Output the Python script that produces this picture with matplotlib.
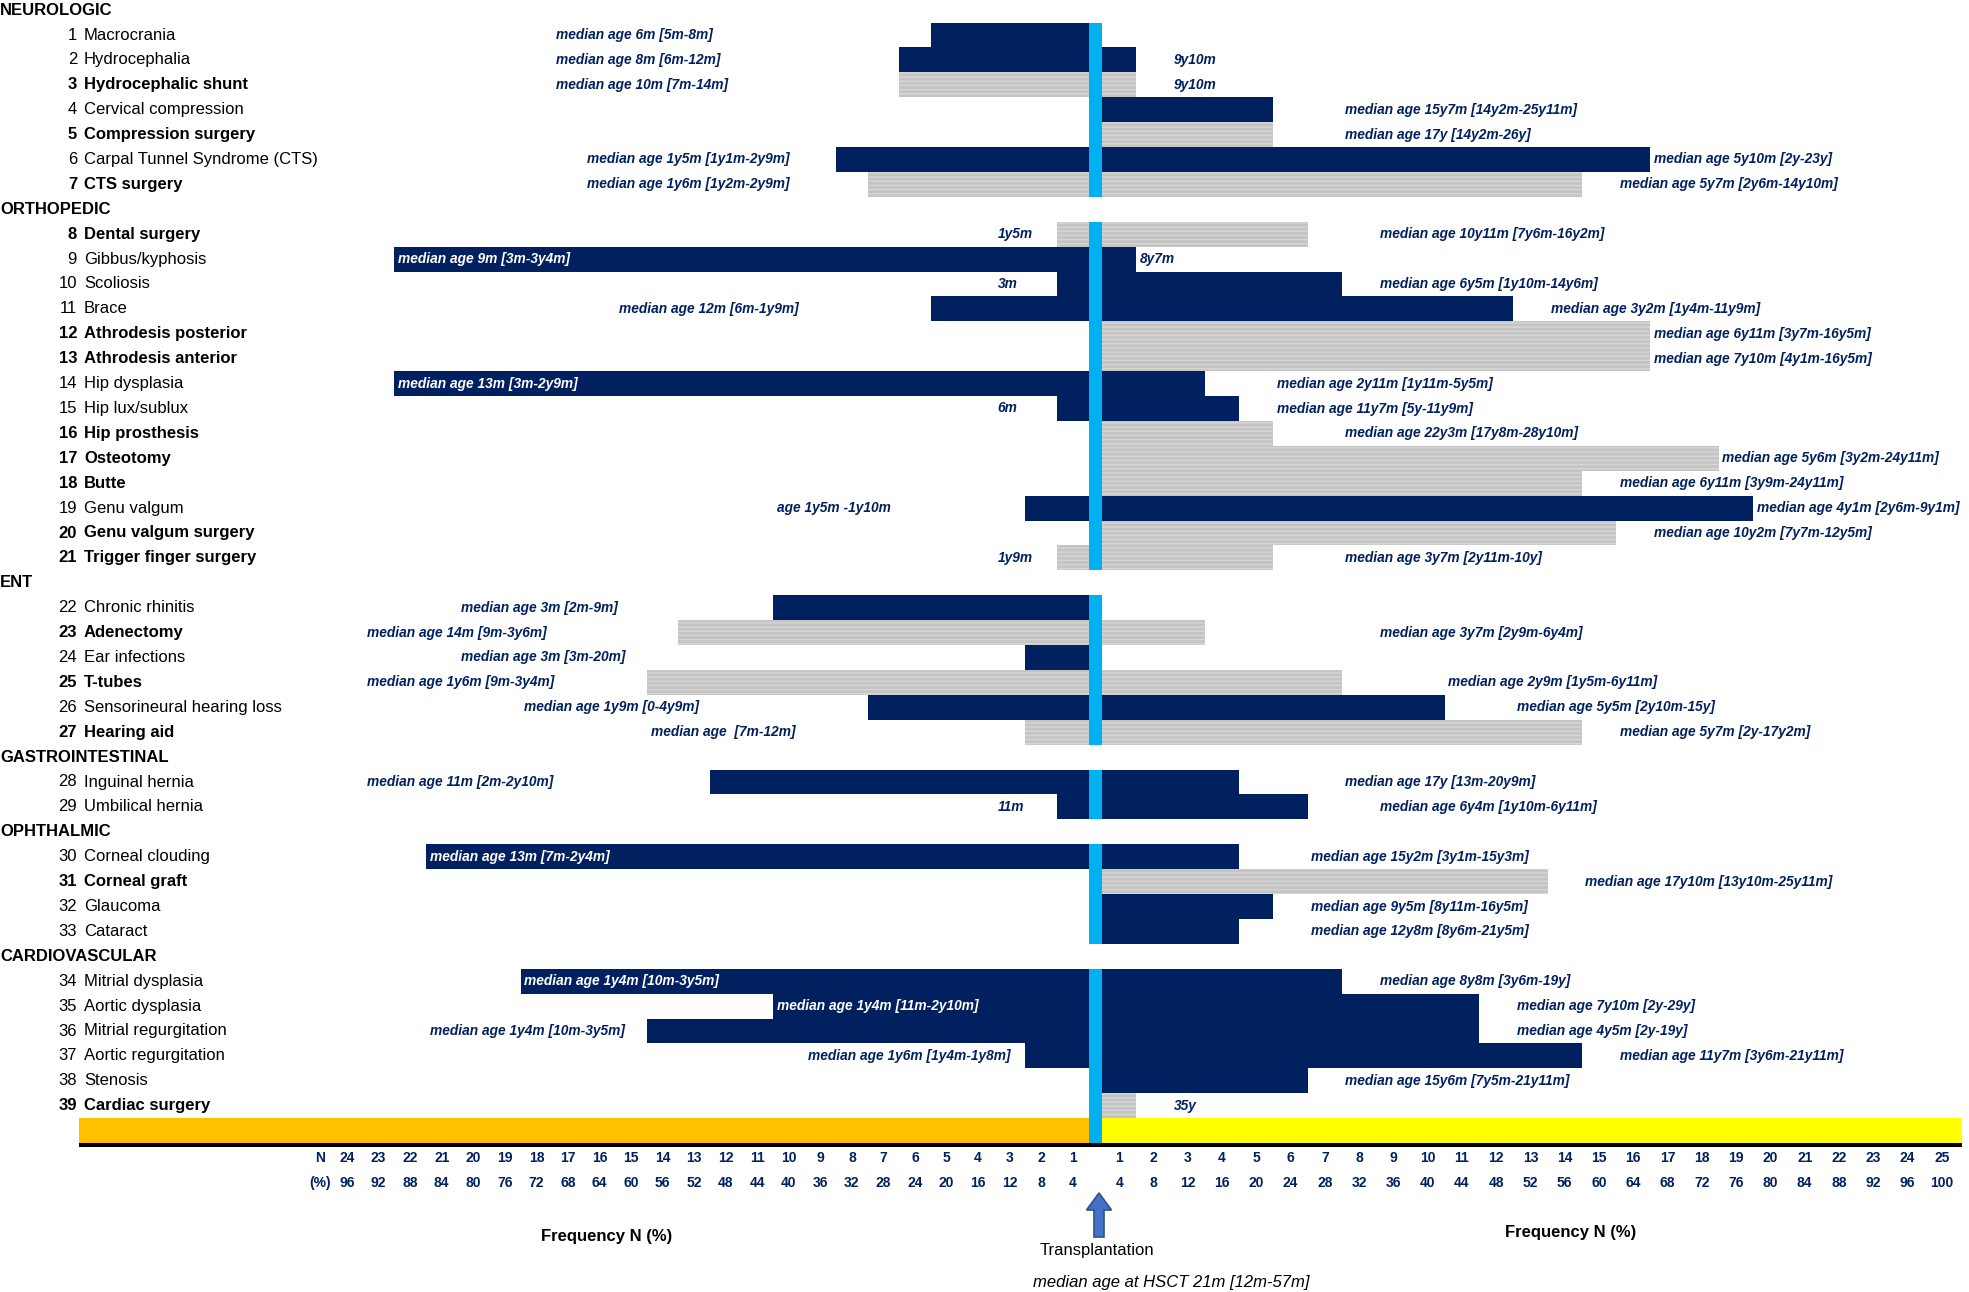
import matplotlib
matplotlib.use("Agg")
import matplotlib.pyplot as plt
from matplotlib import transforms
from matplotlib.lines import Line2D
from matplotlib.patches import FancyArrow

plt.rcParams['font.family'] = ['Liberation Sans Narrow', 'Liberation Sans', 'DejaVu Sans']
plt.rcParams['hatch.linewidth'] = 1.0

# ---------------- data ----------------
groups = ["NEUROLOGIC", "ORTHOPEDIC", "ENT", "GASTROINTESTINAL", "OPHTHALMIC", "CARDIOVASCULAR"]
group_sizes = [7, 14, 6, 2, 4, 6]

items = [
    "Macrocrania", "Hydrocephalia", "Hydrocephalic shunt", "Cervical compression",
    "Compression surgery", "Carpal Tunnel Syndrome (CTS)", "CTS surgery",
    "Dental surgery", "Gibbus/kyphosis", "Scoliosis", "Brace", "Athrodesis posterior",
    "Athrodesis anterior", "Hip dysplasia", "Hip lux/sublux", "Hip prosthesis",
    "Osteotomy", "Butte", "Genu valgum", "Genu valgum surgery", "Trigger finger surgery",
    "Chronic rhinitis", "Adenectomy", "Ear infections", "T-tubes",
    "Sensorineural hearing loss", "Hearing aid",
    "Inguinal hernia", "Umbilical hernia",
    "Corneal clouding", "Corneal graft", "Glaucoma", "Cataract",
    "Mitrial dysplasia", "Aortic dysplasia", "Mitrial regurgitation",
    "Aortic regurgitation", "Stenosis", "Cardiac surgery",
]

# True = procedure / surgery (grey bars, bold label)
procedure = [
    False, False, True, False, True, False, True,
    True, False, False, False, True, True, False, False, True, True, True, False, True, True,
    False, True, False, True, False, True,
    False, False,
    False, True, False, False,
    False, False, False, False, False, True,
]

# frequency N before transplantation (left) and after (right)
n_before = [5, 6, 6, 0, 0, 8, 7,
            1, 22, 1, 5, 0, 0, 22, 1, 0, 0, 0, 2, 0, 1,
            10, 13, 2, 14, 7, 2,
            12, 1,
            21, 0, 0, 0,
            18, 10, 14, 2, 0, 0]
n_after = [0, 1, 1, 5, 5, 16, 14,
           6, 1, 7, 12, 16, 16, 3, 4, 5, 18, 14, 19, 15, 5,
           0, 3, 0, 7, 10, 14,
           4, 6,
           4, 13, 5, 4,
           7, 11, 11, 14, 6, 1]

note_before = [
    "median age 6m [5m-8m]", "median age 8m [6m-12m]", "median age 10m [7m-14m]", "", "",
    "median age 1y5m [1y1m-2y9m]", "median age 1y6m [1y2m-2y9m]",
    "1y5m", "median age 9m [3m-3y4m]", "3m", "median age 12m [6m-1y9m]", "", "",
    "median age 13m [3m-2y9m]", "6m", "", "", "", "age 1y5m -1y10m", "", "1y9m",
    "median age 3m [2m-9m]", "median age 14m [9m-3y6m]", "median age 3m [3m-20m]",
    "median age 1y6m [9m-3y4m]", "median age 1y9m [0-4y9m]", "median age  [7m-12m]",
    "median age 11m [2m-2y10m]", "11m",
    "median age 13m [7m-2y4m]", "", "", "",
    "median age 1y4m [10m-3y5m]", "median age 1y4m [11m-2y10m]",
    "median age 1y4m [10m-3y5m]", "median age 1y6m [1y4m-1y8m]", "", "",
]
note_before_cell = [17, 17, 17, 0, 0, 16, 16,
                    3, 22, 3, 15, 0, 0, 22, 3, 0, 0, 0, 10, 0, 3,
                    20, 23, 20, 23, 18, 14,
                    23, 3,
                    21, 0, 0, 0,
                    18, 10, 21, 9, 0, 0]

note_after = [
    "", "9y10m", "9y10m", "median age 15y7m [14y2m-25y11m]", "median age 17y [14y2m-26y]",
    "median age 5y10m [2y-23y]", "median age 5y7m [2y6m-14y10m]",
    "median age 10y11m [7y6m-16y2m]", "8y7m", "median age 6y5m [1y10m-14y6m]",
    "median age 3y2m [1y4m-11y9m]", "median age 6y11m [3y7m-16y5m]",
    "median age 7y10m [4y1m-16y5m]", "median age 2y11m [1y11m-5y5m]",
    "median age 11y7m [5y-11y9m]", "median age 22y3m [17y8m-28y10m]",
    "median age 5y6m [3y2m-24y11m]", "median age 6y11m [3y9m-24y11m]",
    "median age 4y1m [2y6m-9y1m]", "median age 10y2m [7y7m-12y5m]",
    "median age 3y7m [2y11m-10y]",
    "", "median age 3y7m [2y9m-6y4m]", "", "median age 2y9m [1y5m-6y11m]",
    "median age 5y5m [2y10m-15y]", "median age 5y7m [2y-17y2m]",
    "median age 17y [13m-20y9m]", "median age 6y4m [1y10m-6y11m]",
    "median age 15y2m [3y1m-15y3m]", "median age 17y10m [13y10m-25y11m]",
    "median age 9y5m [8y11m-16y5m]", "median age 12y8m [8y6m-21y5m]",
    "median age 8y8m [3y6m-19y]", "median age 7y10m [2y-29y]", "median age 4y5m [2y-19y]",
    "median age 11y7m [3y6m-21y11m]", "median age 15y6m [7y5m-21y11m]", "35y",
]
note_after_cell = [0, 2, 2, 7, 7, 16, 15,
                   8, 1, 8, 13, 16, 16, 5, 5, 7, 18, 15, 19, 16, 7,
                   0, 8, 0, 10, 12, 15,
                   7, 8,
                   6, 14, 6, 6,
                   8, 12, 12, 15, 7, 2]

ticks_n_before = [24, 23, 22, 21, 20, 19, 18, 17, 16, 15, 14, 13, 12, 11, 10, 9, 8, 7, 6, 5, 4, 3, 2, 1]
ticks_pct_before = [96, 92, 88, 84, 80, 76, 72, 68, 64, 60, 56, 52, 48, 44, 40, 36, 32, 28, 24, 20, 16, 12, 8, 4]
ticks_n_after = list(range(1, 26))
ticks_pct_after = [4, 8, 12, 16, 20, 24, 28, 32, 36, 40, 44, 48, 52, 56, 60, 64, 68, 72, 76, 80, 84, 88, 92, 96, 100]

# ---------------- layout ----------------
W, H = 1969, 1292
NAVY = "#002060"
GREY = "#c4c4c4"
CYAN = "#00B0F0"
ROW_H = 24.9
ROW0 = 10.1
Y_BOTTOM = ROW0 + ROW_H * 45.5

fig = plt.figure(figsize=(W / 100, H / 100), dpi=100)
fig.patch.set_facecolor("white")


def rect(x0, x1):
    return [x0 / W, 1 - Y_BOTTOM / H, (x1 - x0) / W, Y_BOTTOM / H]


LX0, LX1 = 79, 1088.5
RX0, RX1 = 1102, 1961.5
LUNIT, RUNIT = 31.55, 34.28
axL = fig.add_axes(rect(LX0, LX1))
axM = fig.add_axes(rect(LX1, RX0))
axR = fig.add_axes(rect(RX0, RX1))
lmax = (LX1 - LX0) / LUNIT
rmax = (RX1 - RX0) / RUNIT
axL.set_xlim(lmax, 0)
axR.set_xlim(0, rmax)
axM.set_xlim(0, 1)
for a in (axL, axM, axR):
    a.set_ylim(45.5, (0 - ROW0) / ROW_H)
    a.axis("off")

# row indices
item_rows, header_rows = [], []
r = 0
for g, size in zip(groups, group_sizes):
    header_rows.append(r)
    r += 1
    for _ in range(size):
        item_rows.append(r)
        r += 1
band_row = r  # 45

navy_rows = [item_rows[i] for i in range(len(items)) if not procedure[i]]
proc_rows = [item_rows[i] for i in range(len(items)) if procedure[i]]
nb_navy = [n_before[i] for i in range(len(items)) if not procedure[i]]
nb_proc = [n_before[i] for i in range(len(items)) if procedure[i]]
na_navy = [n_after[i] for i in range(len(items)) if not procedure[i]]
na_proc = [n_after[i] for i in range(len(items)) if procedure[i]]

for ax, nav, prc in ((axL, nb_navy, nb_proc), (axR, na_navy, na_proc)):
    ax.barh(navy_rows, nav, height=1.0, color=NAVY, linewidth=0, align="center")
    ax.barh(proc_rows, prc, height=1.0, color=GREY, edgecolor="#d6d6d6",
            hatch="----", linewidth=0, align="center")

# bottom band
axL.barh([band_row], [lmax], height=1.0, color="#FFC000", linewidth=0)
axR.barh([band_row], [rmax], height=1.0, color="#FFFF00", linewidth=0)
# transplantation line
axM.barh(item_rows + [band_row], [1] * (len(item_rows) + 1), height=1.0, color=CYAN, linewidth=0)

fig.add_artist(Line2D([LX0 / W, 1962 / W], [1 - (Y_BOTTOM + 1.5) / H] * 2,
                      color="black", lw=2.9, solid_capstyle="butt"))

# row labels
trans = transforms.blended_transform_factory(fig.transFigure, axL.transData)
LBL_FS = 12
for g, hr in zip(groups, header_rows):
    fig.text(0.0, hr, g, transform=trans, ha="left", va="center",
             fontsize=LBL_FS, fontweight="bold", color="black")
for i, (name, rr) in enumerate(zip(items, item_rows)):
    w = "bold" if procedure[i] else "normal"
    fig.text(77 / W, rr, str(i + 1), transform=trans, ha="right", va="center",
             fontsize=LBL_FS, fontweight=w, color="black")
    fig.text(84 / W, rr, name, transform=trans, ha="left", va="center",
             fontsize=LBL_FS, fontweight=w, color="black")

# annotations
NOTE_FS = 9.9
for i, rr in enumerate(item_rows):
    if note_before[i]:
        c = note_before_cell[i]
        col = "white" if c <= n_before[i] else NAVY
        axL.text(c - 0.12, rr, note_before[i], ha="left", va="center", fontsize=NOTE_FS,
                 fontstyle="italic", fontweight="bold", color=col, clip_on=False)
    if note_after[i]:
        c = note_after_cell[i]
        col = "white" if c < n_after[i] else NAVY
        axR.text(c + 0.1, rr, note_after[i], ha="left", va="center", fontsize=NOTE_FS,
                 fontstyle="italic", fontweight="bold", color=col, clip_on=False)

# tick labels
Y_N = (1158 - ROW0) / ROW_H
Y_P = (1183 - ROW0) / ROW_H
TICK_FS = 10
for n, p in zip(ticks_n_before, ticks_pct_before):
    axL.text(n - 0.5, Y_N, str(n), ha="center", va="center", fontsize=TICK_FS,
             fontweight="bold", color=NAVY, clip_on=False)
    axL.text(n - 0.5, Y_P, str(p), ha="center", va="center", fontsize=TICK_FS,
             fontweight="bold", color=NAVY, clip_on=False)
for n, p in zip(ticks_n_after, ticks_pct_after):
    axR.text(n - 0.5, Y_N, str(n), ha="center", va="center", fontsize=TICK_FS,
             fontweight="bold", color=NAVY, clip_on=False)
    axR.text(n - 0.5, Y_P, str(p), ha="center", va="center", fontsize=TICK_FS,
             fontweight="bold", color=NAVY, clip_on=False)
axL.text(24.36, Y_N, "N", ha="center", va="center", fontsize=TICK_FS,
         fontweight="bold", color=NAVY, clip_on=False)
axL.text(24.36, Y_P, "(%)", ha="center", va="center", fontsize=TICK_FS,
         fontweight="bold", color=NAVY, clip_on=False)

# bottom captions
fig.text(607 / W, 1 - 1237 / H, "Frequency N (%)", ha="center", va="center",
         fontsize=12, fontweight="bold", color="black")
fig.text(1571 / W, 1 - 1232 / H, "Frequency N (%)", ha="center", va="center",
         fontsize=12, fontweight="bold", color="black")
fig.text(1097 / W, 1 - 1250 / H, "Transplantation", ha="center", va="center",
         fontsize=12, color="black")
fig.text(1171 / W, 1 - 1283 / H, "median age at HSCT 21m [12m-57m]", ha="center", va="center",
         fontsize=12, fontstyle="italic", color="black")

arrow = FancyArrow(1099 / 100, (H - 1237) / 100, 0, 0.44, width=0.10, head_width=0.25,
                   head_length=0.17, length_includes_head=True,
                   transform=fig.dpi_scale_trans, facecolor="#4472C4",
                   edgecolor="#2F528F", linewidth=1.2)
fig.add_artist(arrow)

fig.savefig("out.png", dpi=100, facecolor="white")
